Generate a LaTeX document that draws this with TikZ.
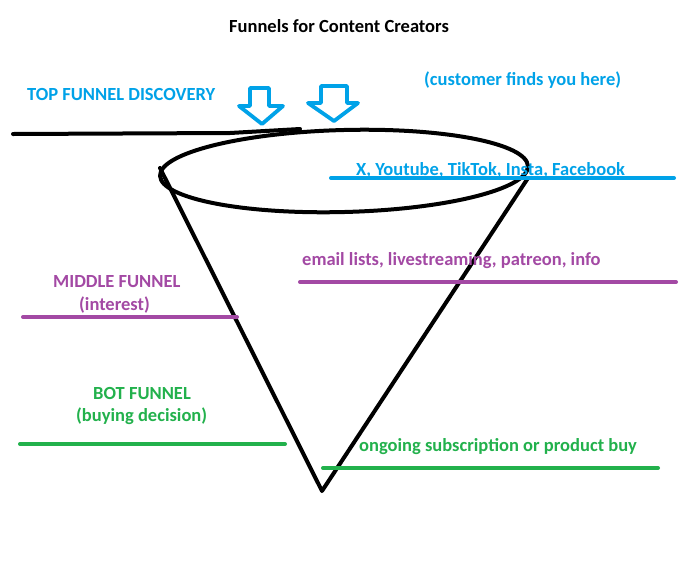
\documentclass[tikz,border=0pt]{standalone}
\usepackage{fontspec}
\setmainfont{Carlito}
\definecolor{pblue}{HTML}{00A2E8}
\definecolor{ppurple}{HTML}{A349A4}
\definecolor{pgreen}{HTML}{22B14C}
\begin{document}
\begin{tikzpicture}[x=1pt,y=-1pt,
  lbl/.style={font=\bfseries\fontsize{18.5}{21}\selectfont, inner sep=0pt, anchor=west},
  blk/.style={line width=4pt, black, line cap=round, line join=round},
  rule/.style={line width=4pt, line cap=round},
  hollow/.style={line width=3.8pt, pblue, line join=round}]
\useasboundingbox (0,0) rectangle (680,574);
\fill[white] (0,0) rectangle (680,574);
% title
\node[lbl, text=black] (title) at (229,26) {Funnels for Content Creators};
% funnel
\coordinate (tl) at (160,168);
\coordinate (tr) at (528,178);
\coordinate (tip) at (322,491);
\coordinate (ls) at (13,134);
\coordinate (le) at (300,129);
\draw[blk] (344,171) ellipse[x radius=184, y radius=41, rotate=1.5];
\draw[blk] (tl) -- (tip) -- (tr);
\draw[blk] (ls) -- (230,133) -- (le);
% arrows
\draw[hollow] (250,88) -- (269,88) -- (269,106) -- (283,106) -- (262,124) -- (239,106) -- (250,106) -- cycle;
\draw[hollow] (321,86) -- (347,86) -- (347,103) -- (358,103) -- (334,121) -- (308,103) -- (321,103) -- cycle;
% top labels
\node[lbl, text=pblue] (top) at (27,94) {TOP FUNNEL DISCOVERY};
\node[lbl, text=pblue] (cust) at (424,80) {(customer finds you here)};
\node[lbl, text=pblue] (plat) at (356,170) {X, Youtube, TikTok, Insta, Facebook};
\coordinate (b1) at (331,178);
\coordinate (b2) at (674,178);
\draw[rule, pblue] (b1) -- (b2);
% middle
\node[lbl, text=ppurple] (mid) at (53,282) {MIDDLE FUNNEL};
\node[lbl, text=ppurple] (int) at (79,305) {(interest)};
\node[lbl, text=ppurple] (email) at (302,261) {email lists, livestreaming, patreon, info};
\coordinate (p1) at (23,317);
\coordinate (p2) at (237,317);
\coordinate (p3) at (300,282);
\coordinate (p4) at (676,282);
\draw[rule, ppurple] (p1) -- (p2);
\draw[rule, ppurple] (p3) -- (p4);
% bottom
\node[lbl, text=pgreen] (bot) at (93,393) {BOT FUNNEL};
\node[lbl, text=pgreen] (buy) at (76,416) {(buying decision)};
\node[lbl, text=pgreen] (ong) at (359,447) {ongoing subscription or product buy};
\coordinate (g1) at (20,444);
\coordinate (g2) at (285,444);
\coordinate (g3) at (323,468);
\coordinate (g4) at (658,468);
\draw[rule, pgreen] (g1) -- (g2);
\draw[rule, pgreen] (g3) -- (g4);
\end{tikzpicture}
\end{document}
